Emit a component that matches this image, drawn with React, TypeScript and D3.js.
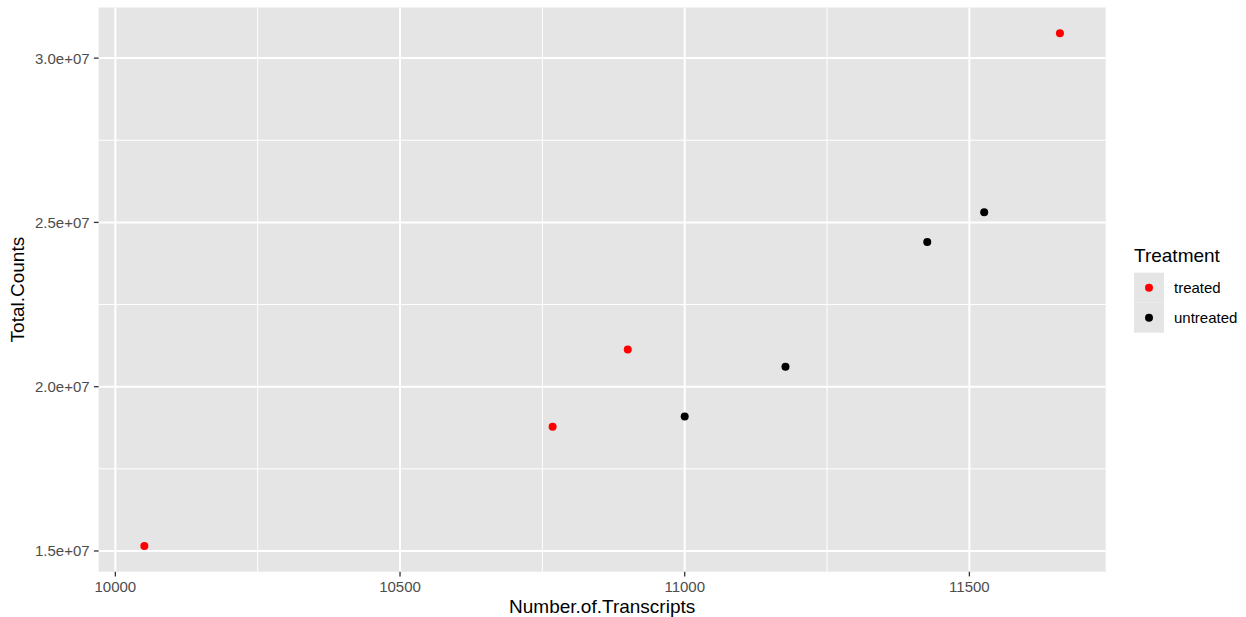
import React from 'react';
import * as d3 from 'd3';

// values
const transcripts = [10051, 10768, 10900, 11659, 11000, 11177, 11426, 11526];
const totalCounts = [15.15e6, 18.78e6, 21.13e6, 30.76e6, 19.09e6, 20.61e6, 24.40e6, 25.31e6];
const treatment = ['treated', 'treated', 'treated', 'treated', 'untreated', 'untreated', 'untreated', 'untreated'];

const groups = ['treated', 'untreated'];
const groupColors = ['#FF0000', '#000000'];

const xTicks = [10000, 10500, 11000, 11500];
const xMinor = [10250, 10750, 11250];
const yTicks = [1.5e7, 2.0e7, 2.5e7, 3.0e7];
const yMinor = [1.75e7, 2.25e7, 2.75e7];

const W = 1246;
const H = 617;
const panel = { left: 98.6, right: 1105.7, top: 7.5, bottom: 571.7 };
const font = "'Liberation Sans', Arial, Helvetica, sans-serif";
const panelFill = '#E5E5E5';

const App = () => {
  // ggplot style 5% expansion
  const [x0, x1] = d3.extent(transcripts) as [number, number];
  const [y0, y1] = d3.extent(totalCounts) as [number, number];
  const xPad = (x1 - x0) * 0.05;
  const yPad = (y1 - y0) * 0.05;

  const xScale = d3.scaleLinear().domain([x0 - xPad, x1 + xPad]).range([panel.left, panel.right]);
  const yScale = d3.scaleLinear().domain([y0 - yPad, y1 + yPad]).range([panel.bottom, panel.top]);
  const color = d3.scaleOrdinal<string, string>().domain(groups).range(groupColors);

  const fmtY = (v: number) => (v / 1e7).toFixed(1) + 'e+07';

  const legendX = 1134;
  const keyTop = 272.7;
  const keySize = 30;

  return (
    <svg width={W} height={H} style={{ position: 'absolute', left: 0, top: 0 }} fontFamily={font}>
      <rect x={0} y={0} width={W} height={H} fill="#fff" />
      <rect x={panel.left} y={panel.top} width={panel.right - panel.left} height={panel.bottom - panel.top} fill={panelFill} />

      {/* minor grid */}
      {xMinor.map(v => (
        <line key={'xm' + v} x1={xScale(v)} x2={xScale(v)} y1={panel.top} y2={panel.bottom} stroke="#fff" strokeWidth={1} />
      ))}
      {yMinor.map(v => (
        <line key={'ym' + v} x1={panel.left} x2={panel.right} y1={yScale(v)} y2={yScale(v)} stroke="#fff" strokeWidth={1} />
      ))}
      {/* major grid */}
      {xTicks.map(v => (
        <line key={'xg' + v} x1={xScale(v)} x2={xScale(v)} y1={panel.top} y2={panel.bottom} stroke="#fff" strokeWidth={2} />
      ))}
      {yTicks.map(v => (
        <line key={'yg' + v} x1={panel.left} x2={panel.right} y1={yScale(v)} y2={yScale(v)} stroke="#fff" strokeWidth={2} />
      ))}

      {/* points */}
      {transcripts.map((t, i) => (
        <circle key={i} cx={xScale(t)} cy={yScale(totalCounts[i])} r={4} fill={color(treatment[i])} />
      ))}

      {/* x axis */}
      {xTicks.map(v => (
        <g key={'xt' + v} transform={`translate(${xScale(v)},${panel.bottom})`}>
          <line y1={0} y2={4.7} stroke="#333" strokeWidth={1.3} />
          <text y={20} textAnchor="middle" fontSize={15} fill="#4D4D4D">{v}</text>
        </g>
      ))}
      {/* y axis */}
      {yTicks.map(v => (
        <g key={'yt' + v} transform={`translate(${panel.left},${yScale(v)})`}>
          <line x1={-4.7} x2={0} stroke="#333" strokeWidth={1.3} />
          <text x={-9} dy="0.36em" textAnchor="end" fontSize={15} fill="#4D4D4D">{fmtY(v)}</text>
        </g>
      ))}

      {/* axis titles */}
      <text x={(panel.left + panel.right) / 2} y={612.7} textAnchor="middle" fontSize={19} fill="#000">Number.of.Transcripts</text>
      <text transform={`translate(24.3,${(panel.top + panel.bottom) / 2}) rotate(-90)`} textAnchor="middle" fontSize={19} fill="#000">Total.Counts</text>

      {/* legend */}
      <text x={legendX} y={262.3} fontSize={19} fill="#000">Treatment</text>
      {groups.map((g, i) => (
        <g key={g} transform={`translate(${legendX},${keyTop + i * keySize})`}>
          <rect width={keySize} height={keySize} fill={panelFill} />
          <circle cx={keySize / 2} cy={keySize / 2} r={4} fill={color(g)} />
          <text x={40} y={keySize / 2} dy="0.36em" fontSize={15} fill="#000">{g}</text>
        </g>
      ))}
    </svg>
  );
};

export default App;
